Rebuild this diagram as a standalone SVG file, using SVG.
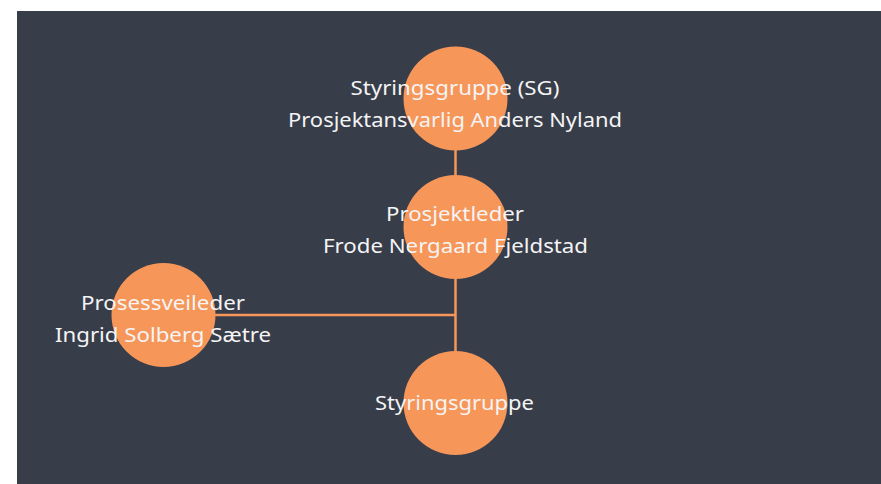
<svg xmlns="http://www.w3.org/2000/svg" width="881" height="484" viewBox="0 0 881 484">
<style>
.node{fill:#f79659;}
.lbl{fill:#f4f4f4;font-family:"Noto Sans","Open Sans",sans-serif;font-size:20px;text-anchor:middle;}
.edge{stroke:#f79659;stroke-width:2.5;fill:none;}
</style>
<rect x="0" y="0" width="881" height="484" fill="#ffffff"/>
<rect x="17" y="11" width="864" height="473" fill="#383d4a"/>
<g id="connectors">
<line class="edge" x1="455.5" y1="150" x2="455.5" y2="352"/>
<line class="edge" x1="214" y1="315" x2="455.5" y2="315"/>
</g>
<g id="sg">
<circle class="node" cx="455.5" cy="98.5" r="52"/>
<text class="lbl" x="455" y="95" textLength="209" lengthAdjust="spacingAndGlyphs">Styringsgruppe (SG)</text>
<text class="lbl" x="455" y="127" textLength="334" lengthAdjust="spacingAndGlyphs">Prosjektansvarlig Anders Nyland</text>
</g>
<g id="pl">
<circle class="node" cx="455.5" cy="227" r="52"/>
<text class="lbl" x="455" y="221" textLength="138" lengthAdjust="spacingAndGlyphs">Prosjektleder</text>
<text class="lbl" x="455.5" y="253" textLength="265" lengthAdjust="spacingAndGlyphs">Frode Nergaard Fjeldstad</text>
</g>
<g id="pv">
<circle class="node" cx="163.5" cy="315" r="52"/>
<text class="lbl" x="163" y="310" textLength="164" lengthAdjust="spacingAndGlyphs">Prosessveileder</text>
<text class="lbl" x="163" y="342" textLength="216" lengthAdjust="spacingAndGlyphs">Ingrid Solberg Sætre</text>
</g>
<g id="sg2">
<circle class="node" cx="455.5" cy="403" r="52"/>
<text class="lbl" x="454.5" y="410" textLength="159" lengthAdjust="spacingAndGlyphs">Styringsgruppe</text>
</g>
</svg>
